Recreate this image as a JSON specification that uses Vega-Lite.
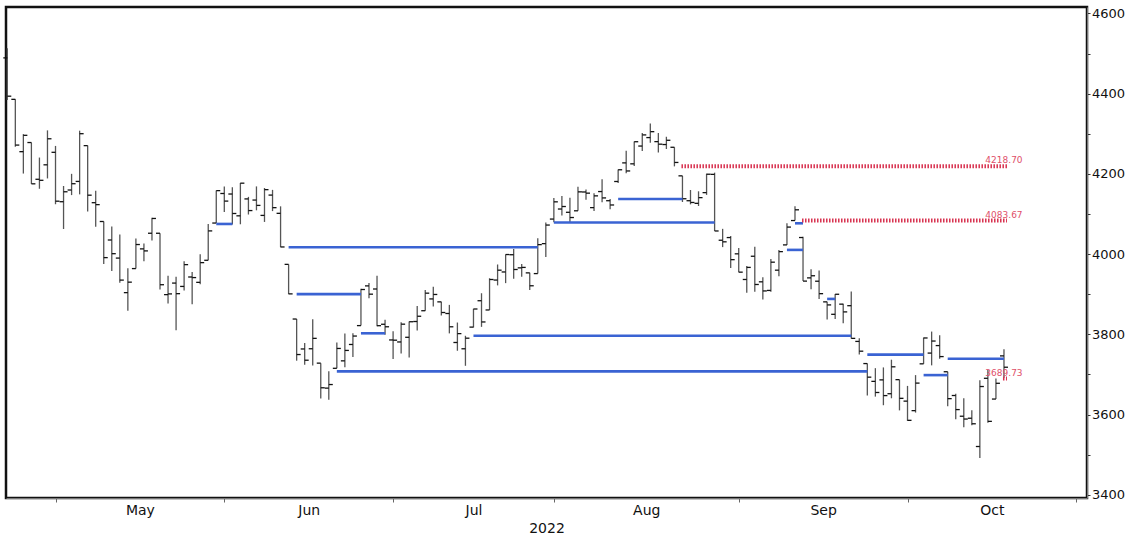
{
  "$schema": "https://vega.github.io/schema/vega-lite/v6.json",
  "width": 1081,
  "height": 491,
  "autosize": {"type": "none"},
  "padding": {"left": 6, "top": 7, "right": 39, "bottom": 40},
  "background": "white",
  "config": {"font": "DejaVu Sans", "view": {"stroke": "#111", "strokeWidth": 2.5}},
  "datasets": {
    "bars": [
      {"d":"2022-04-21","n":0,"o":4489.17,"h":4512.94,"l":4384.47,"c":4393.66},
      {"d":"2022-04-22","n":1,"o":4385.83,"h":4385.83,"l":4267.62,"c":4271.78},
      {"d":"2022-04-25","n":2,"o":4255.34,"h":4299.02,"l":4200.82,"c":4296.12},
      {"d":"2022-04-26","n":3,"o":4278.14,"h":4278.14,"l":4175.04,"c":4175.20},
      {"d":"2022-04-27","n":4,"o":4186.52,"h":4240.71,"l":4162.90,"c":4183.96},
      {"d":"2022-04-28","n":5,"o":4222.58,"h":4308.45,"l":4188.63,"c":4287.50},
      {"d":"2022-04-29","n":6,"o":4253.75,"h":4269.68,"l":4124.28,"c":4131.93},
      {"d":"2022-05-02","n":7,"o":4130.61,"h":4169.81,"l":4062.51,"c":4155.38},
      {"d":"2022-05-03","n":8,"o":4159.78,"h":4200.10,"l":4147.08,"c":4175.48},
      {"d":"2022-05-04","n":9,"o":4181.18,"h":4307.66,"l":4148.91,"c":4300.17},
      {"d":"2022-05-05","n":10,"o":4270.43,"h":4270.43,"l":4106.01,"c":4146.87},
      {"d":"2022-05-06","n":11,"o":4128.17,"h":4157.69,"l":4067.91,"c":4123.34},
      {"d":"2022-05-09","n":12,"o":4081.27,"h":4081.27,"l":3975.48,"c":3991.24},
      {"d":"2022-05-10","n":13,"o":4035.18,"h":4068.82,"l":3958.17,"c":4001.05},
      {"d":"2022-05-11","n":14,"o":3990.08,"h":4049.09,"l":3928.82,"c":3935.18},
      {"d":"2022-05-12","n":15,"o":3903.95,"h":3964.80,"l":3858.87,"c":3930.08},
      {"d":"2022-05-13","n":16,"o":3963.90,"h":4038.88,"l":3963.90,"c":4023.89},
      {"d":"2022-05-16","n":17,"o":4013.02,"h":4026.17,"l":3982.14,"c":4008.01},
      {"d":"2022-05-17","n":18,"o":4052.00,"h":4090.72,"l":4033.93,"c":4088.85},
      {"d":"2022-05-18","n":19,"o":4051.98,"h":4051.98,"l":3911.91,"c":3923.68},
      {"d":"2022-05-19","n":20,"o":3899.00,"h":3945.96,"l":3876.58,"c":3900.79},
      {"d":"2022-05-20","n":21,"o":3927.76,"h":3943.42,"l":3810.32,"c":3901.36},
      {"d":"2022-05-23","n":22,"o":3919.42,"h":3981.88,"l":3909.04,"c":3973.75},
      {"d":"2022-05-24","n":23,"o":3942.94,"h":3955.68,"l":3875.13,"c":3941.48},
      {"d":"2022-05-25","n":24,"o":3929.59,"h":3999.33,"l":3925.03,"c":3978.73},
      {"d":"2022-05-26","n":25,"o":3984.60,"h":4075.14,"l":3984.60,"c":4057.84},
      {"d":"2022-05-27","n":26,"o":4077.43,"h":4158.49,"l":4077.43,"c":4158.24},
      {"d":"2022-05-31","n":27,"o":4151.09,"h":4168.34,"l":4104.88,"c":4132.15},
      {"d":"2022-06-01","n":28,"o":4149.78,"h":4166.54,"l":4073.85,"c":4101.23},
      {"d":"2022-06-02","n":29,"o":4095.41,"h":4177.51,"l":4074.37,"c":4176.82},
      {"d":"2022-06-03","n":30,"o":4137.57,"h":4142.67,"l":4098.67,"c":4108.54},
      {"d":"2022-06-06","n":31,"o":4134.72,"h":4168.78,"l":4109.18,"c":4121.43},
      {"d":"2022-06-07","n":32,"o":4096.47,"h":4164.86,"l":4080.19,"c":4160.68},
      {"d":"2022-06-08","n":33,"o":4147.12,"h":4160.14,"l":4107.20,"c":4115.77},
      {"d":"2022-06-09","n":34,"o":4101.65,"h":4119.10,"l":4017.17,"c":4017.82},
      {"d":"2022-06-10","n":35,"o":3974.39,"h":3974.39,"l":3900.16,"c":3900.86},
      {"d":"2022-06-13","n":36,"o":3838.15,"h":3838.15,"l":3734.30,"c":3749.63},
      {"d":"2022-06-14","n":37,"o":3763.52,"h":3778.18,"l":3724.48,"c":3735.48},
      {"d":"2022-06-15","n":38,"o":3764.05,"h":3837.56,"l":3722.30,"c":3789.99},
      {"d":"2022-06-16","n":39,"o":3728.18,"h":3728.18,"l":3639.77,"c":3666.77},
      {"d":"2022-06-17","n":40,"o":3665.90,"h":3707.71,"l":3636.87,"c":3674.84},
      {"d":"2022-06-21","n":41,"o":3715.31,"h":3779.65,"l":3715.31,"c":3764.79},
      {"d":"2022-06-22","n":42,"o":3733.89,"h":3801.79,"l":3717.69,"c":3759.89},
      {"d":"2022-06-23","n":43,"o":3774.71,"h":3802.58,"l":3743.52,"c":3795.73},
      {"d":"2022-06-24","n":44,"o":3821.75,"h":3913.65,"l":3821.75,"c":3911.74},
      {"d":"2022-06-27","n":45,"o":3920.76,"h":3927.72,"l":3889.66,"c":3900.11},
      {"d":"2022-06-28","n":46,"o":3913.00,"h":3945.86,"l":3820.14,"c":3821.55},
      {"d":"2022-06-29","n":47,"o":3825.09,"h":3836.50,"l":3799.02,"c":3818.83},
      {"d":"2022-06-30","n":48,"o":3785.99,"h":3807.76,"l":3738.67,"c":3785.38},
      {"d":"2022-07-01","n":49,"o":3781.00,"h":3829.82,"l":3752.10,"c":3825.33},
      {"d":"2022-07-05","n":50,"o":3792.61,"h":3832.19,"l":3742.06,"c":3831.39},
      {"d":"2022-07-06","n":51,"o":3831.98,"h":3870.91,"l":3809.37,"c":3845.08},
      {"d":"2022-07-07","n":52,"o":3858.85,"h":3910.63,"l":3858.85,"c":3902.62},
      {"d":"2022-07-08","n":53,"o":3888.26,"h":3918.50,"l":3869.34,"c":3899.38},
      {"d":"2022-07-11","n":54,"o":3880.94,"h":3880.94,"l":3847.22,"c":3854.43},
      {"d":"2022-07-12","n":55,"o":3851.95,"h":3873.41,"l":3802.36,"c":3818.80},
      {"d":"2022-07-13","n":56,"o":3779.67,"h":3829.44,"l":3759.07,"c":3801.78},
      {"d":"2022-07-14","n":57,"o":3763.99,"h":3796.41,"l":3721.56,"c":3790.38},
      {"d":"2022-07-15","n":58,"o":3818.00,"h":3863.62,"l":3817.18,"c":3863.16},
      {"d":"2022-07-18","n":59,"o":3883.79,"h":3902.44,"l":3818.63,"c":3830.85},
      {"d":"2022-07-19","n":60,"o":3860.73,"h":3939.81,"l":3860.73,"c":3936.69},
      {"d":"2022-07-20","n":61,"o":3935.32,"h":3974.13,"l":3922.03,"c":3959.90},
      {"d":"2022-07-21","n":62,"o":3955.47,"h":3999.29,"l":3927.64,"c":3998.95},
      {"d":"2022-07-22","n":63,"o":3998.43,"h":4012.44,"l":3938.85,"c":3961.63},
      {"d":"2022-07-25","n":64,"o":3965.72,"h":3975.30,"l":3943.46,"c":3966.84},
      {"d":"2022-07-26","n":65,"o":3953.22,"h":3953.22,"l":3910.74,"c":3921.05},
      {"d":"2022-07-27","n":66,"o":3951.43,"h":4039.56,"l":3951.43,"c":4023.61},
      {"d":"2022-07-28","n":67,"o":4026.13,"h":4078.95,"l":3992.97,"c":4072.43},
      {"d":"2022-07-29","n":68,"o":4087.33,"h":4140.15,"l":4079.22,"c":4130.29},
      {"d":"2022-08-01","n":69,"o":4112.38,"h":4144.95,"l":4096.02,"c":4118.63},
      {"d":"2022-08-02","n":70,"o":4104.21,"h":4140.47,"l":4079.81,"c":4091.19},
      {"d":"2022-08-03","n":71,"o":4107.96,"h":4167.66,"l":4107.96,"c":4155.17},
      {"d":"2022-08-04","n":72,"o":4154.85,"h":4161.29,"l":4135.42,"c":4151.94},
      {"d":"2022-08-05","n":73,"o":4115.87,"h":4151.58,"l":4107.31,"c":4145.19},
      {"d":"2022-08-08","n":74,"o":4155.93,"h":4186.62,"l":4128.97,"c":4140.06},
      {"d":"2022-08-09","n":75,"o":4133.11,"h":4137.30,"l":4112.09,"c":4122.47},
      {"d":"2022-08-10","n":76,"o":4181.02,"h":4211.03,"l":4177.26,"c":4210.24},
      {"d":"2022-08-11","n":77,"o":4227.40,"h":4257.91,"l":4201.41,"c":4207.27},
      {"d":"2022-08-12","n":78,"o":4225.02,"h":4280.47,"l":4219.78,"c":4280.15},
      {"d":"2022-08-15","n":79,"o":4269.37,"h":4301.79,"l":4256.90,"c":4297.14},
      {"d":"2022-08-16","n":80,"o":4290.46,"h":4325.28,"l":4277.77,"c":4305.20},
      {"d":"2022-08-17","n":81,"o":4280.40,"h":4302.18,"l":4253.08,"c":4274.04},
      {"d":"2022-08-18","n":82,"o":4273.13,"h":4292.53,"l":4261.98,"c":4283.74},
      {"d":"2022-08-19","n":83,"o":4266.31,"h":4266.31,"l":4218.70,"c":4228.48},
      {"d":"2022-08-22","n":84,"o":4195.08,"h":4195.08,"l":4129.86,"c":4137.99},
      {"d":"2022-08-23","n":85,"o":4133.09,"h":4159.77,"l":4124.03,"c":4128.73},
      {"d":"2022-08-24","n":86,"o":4126.55,"h":4156.56,"l":4119.97,"c":4140.77},
      {"d":"2022-08-25","n":87,"o":4153.26,"h":4200.54,"l":4147.59,"c":4199.12},
      {"d":"2022-08-26","n":88,"o":4198.74,"h":4203.04,"l":4057.66,"c":4057.66},
      {"d":"2022-08-29","n":89,"o":4034.58,"h":4062.99,"l":4017.42,"c":4030.61},
      {"d":"2022-08-30","n":90,"o":4041.25,"h":4044.98,"l":3965.21,"c":3986.16},
      {"d":"2022-08-31","n":91,"o":4000.67,"h":4015.37,"l":3954.53,"c":3955.00},
      {"d":"2022-09-01","n":92,"o":3936.73,"h":3970.23,"l":3903.65,"c":3966.85},
      {"d":"2022-09-02","n":93,"o":3994.66,"h":4018.43,"l":3906.21,"c":3924.26},
      {"d":"2022-09-06","n":94,"o":3930.89,"h":3942.55,"l":3886.75,"c":3908.19},
      {"d":"2022-09-07","n":95,"o":3909.43,"h":3987.89,"l":3906.03,"c":3979.87},
      {"d":"2022-09-08","n":96,"o":3959.94,"h":4010.50,"l":3944.81,"c":4006.18},
      {"d":"2022-09-09","n":97,"o":4022.94,"h":4076.81,"l":4022.94,"c":4067.36},
      {"d":"2022-09-12","n":98,"o":4083.67,"h":4119.28,"l":4083.67,"c":4110.41},
      {"d":"2022-09-13","n":99,"o":4041.33,"h":4043.38,"l":3932.69,"c":3932.69},
      {"d":"2022-09-14","n":100,"o":3940.73,"h":3961.94,"l":3912.15,"c":3946.01},
      {"d":"2022-09-15","n":101,"o":3932.41,"h":3959.14,"l":3888.28,"c":3901.35},
      {"d":"2022-09-16","n":102,"o":3880.95,"h":3880.95,"l":3837.08,"c":3873.33},
      {"d":"2022-09-19","n":103,"o":3849.91,"h":3900.45,"l":3838.50,"c":3899.89},
      {"d":"2022-09-20","n":104,"o":3875.23,"h":3876.01,"l":3827.54,"c":3855.93},
      {"d":"2022-09-21","n":105,"o":3871.40,"h":3907.07,"l":3789.49,"c":3789.93},
      {"d":"2022-09-22","n":106,"o":3782.36,"h":3790.20,"l":3749.45,"c":3757.99},
      {"d":"2022-09-23","n":107,"o":3727.14,"h":3727.14,"l":3647.47,"c":3693.23},
      {"d":"2022-09-26","n":108,"o":3682.72,"h":3715.67,"l":3644.76,"c":3655.04},
      {"d":"2022-09-27","n":109,"o":3686.44,"h":3717.53,"l":3623.29,"c":3647.29},
      {"d":"2022-09-28","n":110,"o":3651.94,"h":3736.74,"l":3640.61,"c":3719.04},
      {"d":"2022-09-29","n":111,"o":3687.01,"h":3687.01,"l":3610.40,"c":3640.47},
      {"d":"2022-09-30","n":112,"o":3633.48,"h":3671.44,"l":3584.13,"c":3585.62},
      {"d":"2022-10-03","n":113,"o":3609.78,"h":3698.35,"l":3604.93,"c":3678.43},
      {"d":"2022-10-04","n":114,"o":3726.46,"h":3791.92,"l":3726.46,"c":3790.93},
      {"d":"2022-10-05","n":115,"o":3753.25,"h":3806.91,"l":3722.66,"c":3783.28},
      {"d":"2022-10-06","n":116,"o":3771.97,"h":3797.93,"l":3739.22,"c":3744.52},
      {"d":"2022-10-07","n":117,"o":3706.74,"h":3706.74,"l":3620.73,"c":3639.66},
      {"d":"2022-10-10","n":118,"o":3647.51,"h":3652.17,"l":3588.10,"c":3612.39},
      {"d":"2022-10-11","n":119,"o":3595.86,"h":3640.66,"l":3568.45,"c":3588.84},
      {"d":"2022-10-12","n":120,"o":3590.83,"h":3611.06,"l":3573.50,"c":3577.03},
      {"d":"2022-10-13","n":121,"o":3520.37,"h":3685.41,"l":3491.58,"c":3669.91},
      {"d":"2022-10-14","n":122,"o":3690.41,"h":3712.00,"l":3579.68,"c":3583.07},
      {"d":"2022-10-17","n":123,"o":3638.65,"h":3689.73,"l":3638.65,"c":3677.95},
      {"d":"2022-10-18","n":124,"o":3746.26,"h":3762.79,"l":3692.00,"c":3718.00}
    ],
    "gaps": [
      {"from":26,"to":28,"level":4075.14,"status":"filled"},
      {"from":35,"to":66,"level":4017.17,"status":"filled"},
      {"from":36,"to":44,"level":3900.16,"status":"filled"},
      {"from":41,"to":107,"level":3707.71,"status":"filled"},
      {"from":44,"to":47,"level":3802.58,"status":"filled"},
      {"from":58,"to":105,"level":3796.41,"status":"filled"},
      {"from":68,"to":88,"level":4078.95,"status":"filled"},
      {"from":76,"to":84,"level":4137.30,"status":"filled"},
      {"from":97,"to":99,"level":4010.50,"status":"filled"},
      {"from":98,"to":99,"level":4076.81,"status":"filled"},
      {"from":102,"to":103,"level":3888.28,"status":"filled"},
      {"from":107,"to":114,"level":3749.45,"status":"filled"},
      {"from":114,"to":117,"level":3698.35,"status":"filled"},
      {"from":117,"to":124,"level":3739.22,"status":"filled"},
      {"from":84,"to":124,"level":4218.70,"status":"open"},
      {"from":99,"to":124,"level":4083.67,"status":"open"},
      {"from":124,"to":124,"level":3689.73,"status":"open"}
    ]
  },
  "layer": [
    {
      "data": {"name": "bars"},
      "mark": {"type": "rule", "color": "#555", "strokeWidth": 1.3},
      "encoding": {
        "x": {
          "field": "n", "type": "quantitative",
          "scale": {"domain": [-0.16, 134.33], "nice": false, "zero": false},
          "axis": {
            "orient": "bottom",
            "values": [6, 16.5, 27, 37.5, 48, 58, 68, 79.5, 91, 101.5, 112, 122.5, 133],
            "labelExpr": "datum.value == 16.5 ? 'May' : datum.value == 37.5 ? 'Jun' : datum.value == 58 ? 'Jul' : datum.value == 79.5 ? 'Aug' : datum.value == 101.5 ? 'Sep' : datum.value == 122.5 ? 'Oct' : ''",
            "tickOpacity": {"condition": {"test": "indexof([6, 27, 48, 68, 91, 112, 133], datum.value) >= 0", "value": 1}, "value": 0},
            "tickSize": 4,
            "tickColor": "#666",
            "domainColor": "#777",
            "grid": false,
            "labelFontSize": 14,
            "labelColor": "#111",
            "labelPadding": 1,
            "labelFlush": false,
            "labelOverlap": false,
            "title": "2022",
            "titleFontSize": 14,
            "titleFontWeight": "normal",
            "titleColor": "#111",
            "titlePadding": 4
          }
        },
        "y": {
          "field": "l", "type": "quantitative",
          "scale": {"domain": [3392, 4616], "nice": false, "zero": false},
          "axis": {
            "orient": "right",
            "values": [3400, 3500, 3600, 3700, 3800, 3900, 4000, 4100, 4200, 4300, 4400, 4500, 4600],
            "format": "d",
            "labelExpr": "datum.value % 200 == 0 ? datum.label : ''",
            "tickSize": 3,
            "tickColor": "#333",
            "domainColor": "#777",
            "grid": false,
            "labelFontSize": 13,
            "labelColor": "#111",
            "labelPadding": 1.5,
            "labelBaseline": "middle",
            "labelFlush": false,
            "labelOverlap": false,
            "title": null
          }
        },
        "y2": {"field": "h"}
      }
    },
    {
      "data": {"name": "bars"},
      "mark": {"type": "rule", "color": "#111", "strokeWidth": 1.3, "x2Offset": -4},
      "encoding": {
        "x": {"field": "n", "type": "quantitative"},
        "x2": {"field": "n"},
        "y": {"field": "o", "type": "quantitative"}
      }
    },
    {
      "data": {"name": "bars"},
      "mark": {"type": "rule", "color": "#111", "strokeWidth": 1.3, "x2Offset": 4},
      "encoding": {
        "x": {"field": "n", "type": "quantitative"},
        "x2": {"field": "n"},
        "y": {"field": "c", "type": "quantitative"}
      }
    },
    {
      "data": {"name": "gaps"},
      "transform": [{"filter": "datum.status == 'filled'"}],
      "mark": {"type": "rule", "color": "#3a63d3", "strokeWidth": 2.6},
      "encoding": {
        "x": {"field": "from", "type": "quantitative"},
        "x2": {"field": "to"},
        "y": {"field": "level", "type": "quantitative"}
      }
    },
    {
      "data": {"name": "gaps"},
      "transform": [{"filter": "datum.status == 'open'"}],
      "mark": {"type": "rule", "color": "#d8314f", "strokeWidth": 4, "strokeDash": [1.5, 1.5], "xOffset": -1, "x2Offset": 3},
      "encoding": {
        "x": {"field": "from", "type": "quantitative"},
        "x2": {"field": "to"},
        "y": {"field": "level", "type": "quantitative"}
      }
    },
    {
      "data": {"name": "gaps"},
      "transform": [{"filter": "datum.status == 'open'"}],
      "mark": {"type": "text", "color": "#e0506a", "fontSize": 9, "dy": -6, "align": "center", "baseline": "middle"},
      "encoding": {
        "x": {"field": "to", "type": "quantitative"},
        "y": {"field": "level", "type": "quantitative"},
        "text": {"field": "level", "type": "quantitative", "format": ".2f"}
      }
    }
  ]
}
